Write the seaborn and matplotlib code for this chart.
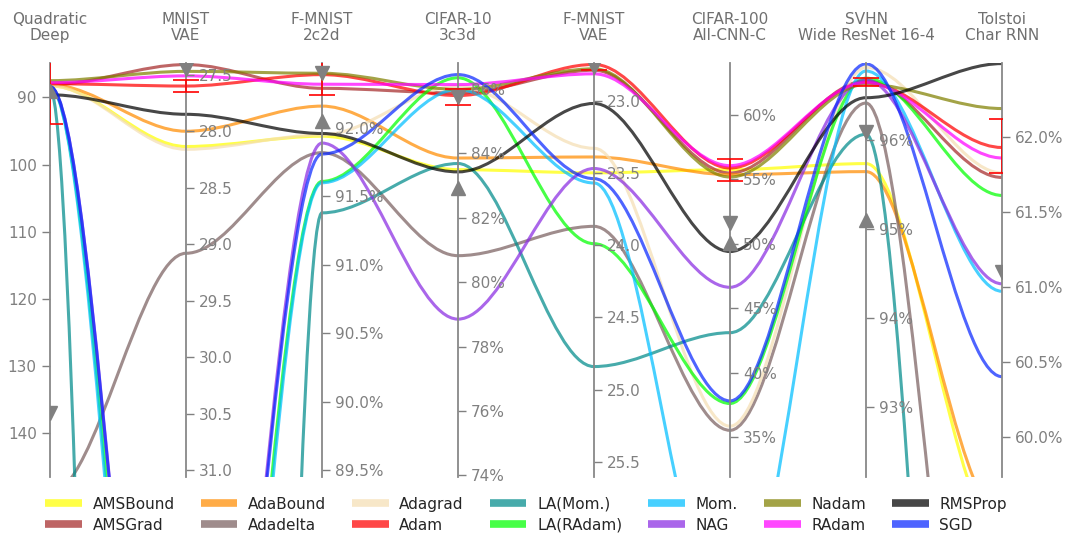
import numpy as np
import matplotlib
matplotlib.use("Agg")
import matplotlib.pyplot as plt
import matplotlib.transforms as mtransforms
from matplotlib.path import Path
from matplotlib.patches import PathPatch
from matplotlib.lines import Line2D
from matplotlib.ticker import MultipleLocator, FuncFormatter
import seaborn as sns

# ---------------- data ----------------
problems = ["Quadratic\nDeep", "MNIST\nVAE", "F-MNIST\n2c2d", "CIFAR-10\n3c3d",
            "F-MNIST\nVAE", "CIFAR-100\nAll-CNN-C", "SVHN\nWide ResNet 16-4",
            "Tolstoi\nChar RNN"]

optimizers = ["AMSBound", "AMSGrad", "AdaBound", "Adadelta", "Adagrad", "Adam",
              "LA(Mom.)", "LA(RAdam)", "Mom.", "NAG", "Nadam", "RAdam",
              "RMSProp", "SGD"]

colors = ["yellow", "brown", "darkorange", "#7a6060", "wheat", "red",
          "darkcyan", "lime", "deepskyblue", "blueviolet", "olive", "magenta",
          "black", "#0a28ff"]

quadratic_deep = [88.26, 88.10, 88.10, 149.0, 88.26, 87.96, 88.70, 88.40, 88.40,
                  88.40, 87.50, 87.80, 89.60, 88.40]
mnist_vae = [28.135, 27.41, 28.00, 29.08, 28.16, 27.60, 67.0, 36.9, 37.3, 36.15,
             27.47, 27.51, 27.85, 36.2]
fmnist_2c2d = [91.94, 92.29, 92.16, 91.82, 91.95, 92.39, 91.38, 91.61, 91.60,
               91.89, 92.40, 92.32, 91.96, 91.81]
cifar10_3c3d = [83.49, 85.87, 83.85, 80.82, 86.08, 85.79, 83.68, 86.34, 85.98,
                78.85, 85.98, 86.13, 83.42, 86.44]
fmnist_vae = [23.50, 22.79, 23.39, 23.87, 23.33, 22.75, 24.84, 23.99, 23.57,
              23.47, 22.78, 22.815, 23.02, 23.54]
cifar100_allcnnc = [55.73, 55.47, 55.34, 35.52, 35.84, 55.86, 43.09, 37.6, 19.4,
                    46.61, 55.16, 56.04, 49.38, 37.8]
svhn_wrn164 = [95.73, 96.66, 95.64, 96.41, 96.81, 96.64, 96.06, 96.69, 96.77,
               96.67, 96.62, 96.64, 96.47, 96.85]
tolstoi_charrnn = [59.32, 61.73, 59.46, 56.48, 61.76, 61.93, 52.0, 61.61, 60.97,
                   61.02, 62.19, 61.86, 62.49, 60.40]

# axis value shown at the top / bottom of each vertical axis
axis_top = [84.87, 27.396, 92.475, 86.8, 22.74, 64.0, 96.86, 62.494]
axis_bottom = [146.5, 31.06, 89.45, 73.95, 25.604, 31.9, 92.21, 59.73]
tick_step = [10, 0.5, 0.5, 2, 0.5, 5, 1, 0.5]
tick_fmt = ["{:.0f}", "{:.1f}", "{:.1f}%", "{:.0f}%", "{:.1f}", "{:.0f}%",
            "{:.0f}%", "{:.1f}%"]

# gray markers and red error bars on each axis
down_marker = [137.0, 27.45, 92.40, 85.73, 22.77, 51.6, 96.08, 61.10]
up_marker = [89.0, np.nan, 92.05, 82.93, np.nan, 50.05, 95.10, np.nan]
err_low = [82.0, 27.544, 92.24, 85.50, 22.73, 54.82, 96.60, 61.76]
err_high = [93.9, 27.654, 92.55, 86.00, 22.79, 56.56, 96.69, 62.12]

# ---------------- figure ----------------
sns.set_style("white")
plt.rcParams["font.family"] = ["DejaVu Sans"]

fig = plt.figure(figsize=(10.65, 5.33), dpi=100)
host = fig.add_axes([50 / 1065, 1 - 477 / 533, 952 / 1065, 414 / 533])

data = np.array([quadratic_deep, mnist_vae, fmnist_2c2d, cifar10_3c3d,
                 fmnist_vae, cifar100_allcnnc, svhn_wrn164, tolstoi_charrnn]).T
n_dims = data.shape[1]
top = np.array(axis_top)
bot = np.array(axis_bottom)
norm = (data - bot) / (top - bot)

twins = []
for i in range(n_dims):
    tw = host.twinx()
    for sp in tw.spines.values():
        sp.set_visible(False)
    tw.set_ylim(axis_bottom[i], axis_top[i])
    side = "left" if i == 0 else "right"
    if i == 0:
        tw.yaxis.tick_left()
    tw.spines[side].set_visible(True)
    tw.spines[side].set_position(("axes", i / (n_dims - 1)))
    tw.spines[side].set_color("#888888")
    tw.spines[side].set_linewidth(1.3)
    tw.yaxis.set_major_locator(MultipleLocator(tick_step[i]))
    fmt = tick_fmt[i]
    tw.yaxis.set_major_formatter(FuncFormatter(lambda v, p, f=fmt: f.format(v)))
    tw.tick_params(axis="y", colors="#808080", labelsize=11, length=6, width=1)
    twins.append(tw)

host.set_xlim(0, n_dims - 1)
host.set_ylim(0, 1)
host.set_xticks([])
host.set_yticks([])
for sp in host.spines.values():
    sp.set_visible(False)

# smooth curves (cubic Bezier with horizontal tangents at each axis)
handles = []
for j, name in enumerate(optimizers):
    xs = np.linspace(0, n_dims - 1, n_dims * 3 - 2)
    ys = np.repeat(norm[j], 3)[1:-1]
    verts = list(zip(xs, ys))
    codes = [Path.MOVETO] + [Path.CURVE4] * (len(verts) - 1)
    patch = PathPatch(Path(verts, codes), facecolor="none", edgecolor=colors[j],
                      lw=2.2, alpha=0.72)
    host.add_patch(patch)
    handles.append(Line2D([], [], color=colors[j], lw=5.5, alpha=0.72,
                          solid_capstyle="butt"))

# markers and error bars
for i, tw in enumerate(twins):
    tw.plot([i], [down_marker[i]], marker="v", color="#808080", markersize=10,
            linestyle="none", zorder=6)
    tw.plot([i], [up_marker[i]], marker="^", color="#808080", markersize=10,
            linestyle="none", zorder=6)
    mid = (err_low[i] + err_high[i]) / 2
    half = abs(err_high[i] - err_low[i]) / 2
    tw.errorbar([i], [mid], yerr=[half], fmt="none", ecolor="red",
                elinewidth=1.4, capsize=9.5, capthick=1.4, alpha=0.85, zorder=5)

# axis titles
trans = mtransforms.blended_transform_factory(host.transData, host.transAxes)
for i, title in enumerate(problems):
    host.text(i, 1.048, title, transform=trans, ha="center", va="bottom",
              fontsize=11, color="#707070", linespacing=1.1)

host.legend(handles, optimizers, ncol=7, loc="upper center",
            bbox_to_anchor=(0.5, -0.025), frameon=False, fontsize=11,
            handlelength=2.4, handletextpad=0.7, columnspacing=1.7,
            labelspacing=0.4, borderaxespad=0.2)

fig.savefig("out.png", dpi=100)
